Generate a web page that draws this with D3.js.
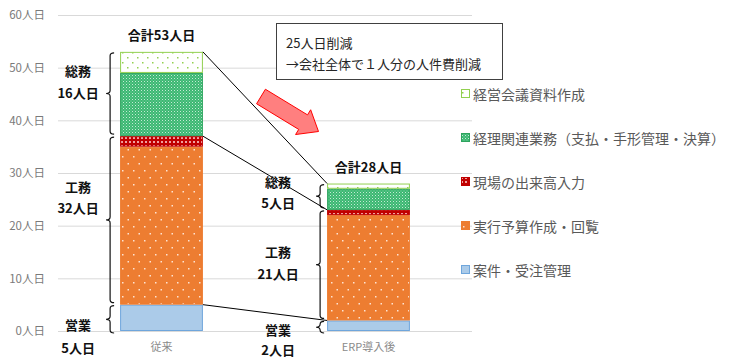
<!DOCTYPE html>
<html>
<head>
<meta charset="utf-8">
<script src="https://cdn.jsdelivr.net/npm/d3@7"></script>
<style>
  html, body { margin: 0; padding: 0; background: #ffffff; }
  svg { display: block; font-family: "Noto Sans CJK JP", "Noto Sans", sans-serif; }
</style>
</head>
<body>
<svg id="chart" width="730" height="358"></svg>
<script>
// ---------- data ----------
const categories = ["従来", "ERP導入後"];
const seriesNames = ["案件・受注管理", "実行予算作成・回覧", "現場の出来高入力", "経理関連業務（支払・手形管理・決算）", "経営会議資料作成"];
const ankenJuchu = [5, 2];
const jikkoYosan = [30, 20];
const genbaDekidaka = [2, 1];
const keiriKanren = [12, 4];
const keieiKaigi = [4, 1];
const groupNames = ["営業", "工務", "総務"];
const groupMembers = [[0], [1, 2], [3, 4]];
const yTicks = [0, 10, 20, 30, 40, 50, 60];
const unitLabel = "人日";
const totalLabel = "合計";
const noteLines = ["25人日削減", "→会社全体で１人分の人件費削減"];

// ---------- layout ----------
const plot = { left: 58, right: 472, top: 15, bottom: 331 };
const svg = d3.select("#chart");

const seriesValues = [ankenJuchu, jikkoYosan, genbaDekidaka, keiriKanren, keieiKaigi];
const table = categories.map((c, i) => {
  const row = { category: c };
  seriesNames.forEach((s, k) => row[s] = seriesValues[k][i]);
  return row;
});
const stacked = d3.stack().keys(seriesNames)(table);

const x = d3.scaleBand().domain(categories).range([plot.left, plot.right])
  .paddingInner(0.6).paddingOuter(0.3);
const y = d3.scaleLinear().domain([0, 60]).range([plot.bottom, plot.top]);

// ---------- patterns ----------
const defs = svg.append("defs");
function pat(id, w, h, bg, dots) {
  const p = defs.append("pattern").attr("id", id).attr("patternUnits", "userSpaceOnUse")
    .attr("width", w).attr("height", h);
  p.append("rect").attr("width", w).attr("height", h).attr("fill", bg);
  dots.forEach(d => p.append("rect").attr("x", d[0]).attr("y", d[1]).attr("width", d[2]).attr("height", d[3])
    .attr("fill", d[4]).attr("opacity", d[5] == null ? 1 : d[5]));
}
pat("p0", 4, 4, "#abcbe9", []);
pat("p1", 11, 14, "#ed7d31", [[1, 2, 1.5, 1.5, "#fde3d2"], [6.5, 9, 1.5, 1.5, "#fde3d2"]]);
pat("p2", 4, 4, "#c00000", [[1, 1, 2, 2, "#f0a0a0"]]);
pat("p3", 3, 3, "#3bb872", [[0, 0, 1, 1, "#ffffff", 0.7], [1.5, 1.5, 1, 1, "#ffffff", 0.4]]);
pat("p4", 10, 10, "#ffffff", [[2, 2, 1.5, 1.5, "#92d050"], [7, 7, 1.5, 1.5, "#92d050"]]);
const fills = ["url(#p0)", "url(#p1)", "url(#p2)", "url(#p3)", "url(#p4)"];
const strokes = ["#6fa6dc", "#ed7d31", "#c00000", "#2ea35e", "#92d050"];

// ---------- grid & axes ----------
svg.append("g").attr("transform", `translate(${plot.left},0)`)
  .call(d3.axisLeft(y).tickValues(yTicks).tickSize(-(plot.right - plot.left)).tickFormat(""))
  .call(g => g.select(".domain").remove())
  .call(g => g.selectAll("line").attr("stroke", "#d9d9d9").attr("stroke-width", 1));

svg.append("g").attr("transform", `translate(${plot.left},0)`)
  .call(d3.axisLeft(y).tickValues(yTicks).tickSize(0).tickPadding(13).tickFormat(d => d + unitLabel))
  .call(g => g.select(".domain").remove())
  .call(g => g.selectAll("text").attr("fill", "#7a7a7a").style("font-size", "11.5px")
    .style("font-family", '"Noto Sans CJK JP", sans-serif'));

svg.append("g").attr("transform", `translate(0,${plot.bottom})`)
  .call(d3.axisBottom(x).tickSize(0).tickPadding(12))
  .call(g => g.select(".domain").remove())
  .call(g => g.selectAll("text").attr("fill", "#8a8a8a").style("font-size", "11px")
    .style("font-family", '"Noto Sans CJK JP", sans-serif'));

// ---------- bars ----------
stacked.forEach((layer, k) => {
  svg.append("g").selectAll("rect").data(layer).join("rect")
    .attr("x", d => x(d.data.category) + 0.5)
    .attr("y", d => y(d[1]) + 0.5)
    .attr("width", x.bandwidth() - 1)
    .attr("height", d => Math.max(0, y(d[0]) - y(d[1]) - 1))
    .attr("fill", fills[k])
    .attr("stroke", strokes[k])
    .attr("stroke-width", 1);
});

// ---------- connector lines ----------
const b0 = categories[0], b1 = categories[1];
const connectLevels = [0, 2, 4]; // top of 案件, top of 現場, top of total
connectLevels.forEach(k => {
  svg.append("line")
    .attr("x1", x(b0) + x.bandwidth()).attr("y1", y(stacked[k][0][1]))
    .attr("x2", x(b1)).attr("y2", y(stacked[k][1][1]))
    .attr("stroke", "#000").attr("stroke-width", 1);
});

// ---------- totals ----------
categories.forEach((c, i) => {
  const tot = d3.sum(seriesValues, v => v[i]);
  svg.append("text").attr("x", x(c) + x.bandwidth() / 2).attr("y", y(tot) - 17)
    .attr("text-anchor", "middle").attr("dominant-baseline", "central")
    .attr("font-weight", "bold").attr("font-size", 13).attr("fill", "#111")
    .text(totalLabel + tot + unitLabel);
});

// ---------- braces + group labels ----------
const braceOffset = [-10, -7];
const labelOffsetX = [-42, -49];
const labelDy = [ // [name, value] offsets relative to brace middle
  [[5, 28], [-33, -12], [-23, -1]],
  [[2, 22], [-13, 9], [-15, 6]]
];
function bracePath(x0, yTop, yBot) {
  const mid = (yTop + yBot) / 2;
  const r = Math.min(3, (yBot - yTop) / 4);
  return `M${x0 + 4},${yTop} Q${x0},${yTop} ${x0},${yTop + r} L${x0},${mid - r} Q${x0},${mid} ${x0 - 4},${mid}` +
    ` Q${x0},${mid} ${x0},${mid + r} L${x0},${yBot - r} Q${x0},${yBot} ${x0 + 4},${yBot}`;
}
categories.forEach((c, i) => {
  groupMembers.forEach((mem, g) => {
    const lo = stacked[mem[0]][i][0];
    const hi = stacked[mem[mem.length - 1]][i][1];
    const yTop = y(hi) + 1, yBot = y(lo) + (lo === 0 ? 2 : -2);
    const bx = x(c) + braceOffset[i];
    svg.append("path").attr("d", bracePath(bx, yTop, yBot))
      .attr("fill", "none").attr("stroke", "#111").attr("stroke-width", 1.2);
    const mid = (yTop + yBot) / 2;
    const val = d3.sum(mem, k => seriesValues[k][i]);
    const lx = x(c) + labelOffsetX[i];
    svg.append("text").attr("x", lx).attr("y", mid + labelDy[i][g][0])
      .attr("text-anchor", "middle").attr("dominant-baseline", "central")
      .attr("font-weight", "bold").attr("font-size", 13).attr("fill", "#111").text(groupNames[g]);
    svg.append("text").attr("x", lx).attr("y", mid + labelDy[i][g][1])
      .attr("text-anchor", "middle").attr("dominant-baseline", "central")
      .attr("font-weight", "bold").attr("font-size", 13).attr("fill", "#111").text(val + unitLabel);
  });
});

// ---------- note box ----------
svg.append("rect").attr("x", 276.5).attr("y", 23.5).attr("width", 226).attr("height", 56)
  .attr("fill", "#fff").attr("stroke", "#404040").attr("stroke-width", 1);
noteLines.forEach((t, i) => {
  svg.append("text").attr("x", 286).attr("y", 42 + i * 21).attr("dominant-baseline", "central")
    .attr("font-size", 13).attr("fill", "#262626").text(t);
});

// ---------- arrow ----------
(function () {
  const T = [261, 96.5], P = [318.5, 131.5];
  const dx = P[0] - T[0], dy = P[1] - T[1], L = Math.hypot(dx, dy);
  const u = [dx / L, dy / L], n = [-u[1], u[0]];
  const sw = 8.5, hw = 14.5, hl = 18;
  const B = [P[0] - hl * u[0], P[1] - hl * u[1]];
  const pt = (o, a) => [o[0] + a * n[0], o[1] + a * n[1]];
  const pts = [pt(T, sw), pt(B, sw), pt(B, hw), P, pt(B, -hw), pt(B, -sw), pt(T, -sw)];
  svg.append("polygon").attr("points", pts.map(p => p.join(",")).join(" "))
    .attr("fill", "#ff7f7f").attr("stroke", "#ff0000").attr("stroke-width", 1);
})();

// ---------- legend ----------
const legendOrder = [4, 3, 2, 1, 0];
legendOrder.forEach((k, j) => {
  const cy = 94 + j * 44;
  svg.append("rect").attr("x", 461.5).attr("y", cy - 4.5).attr("width", 8).attr("height", 8)
    .attr("fill", fills[k]).attr("stroke", strokes[k]).attr("stroke-width", 1);
  svg.append("text").attr("x", 473).attr("y", cy).attr("dominant-baseline", "central")
    .attr("font-size", 14).attr("fill", "#595959").text(seriesNames[k]);
});
</script>
</body>
</html>
